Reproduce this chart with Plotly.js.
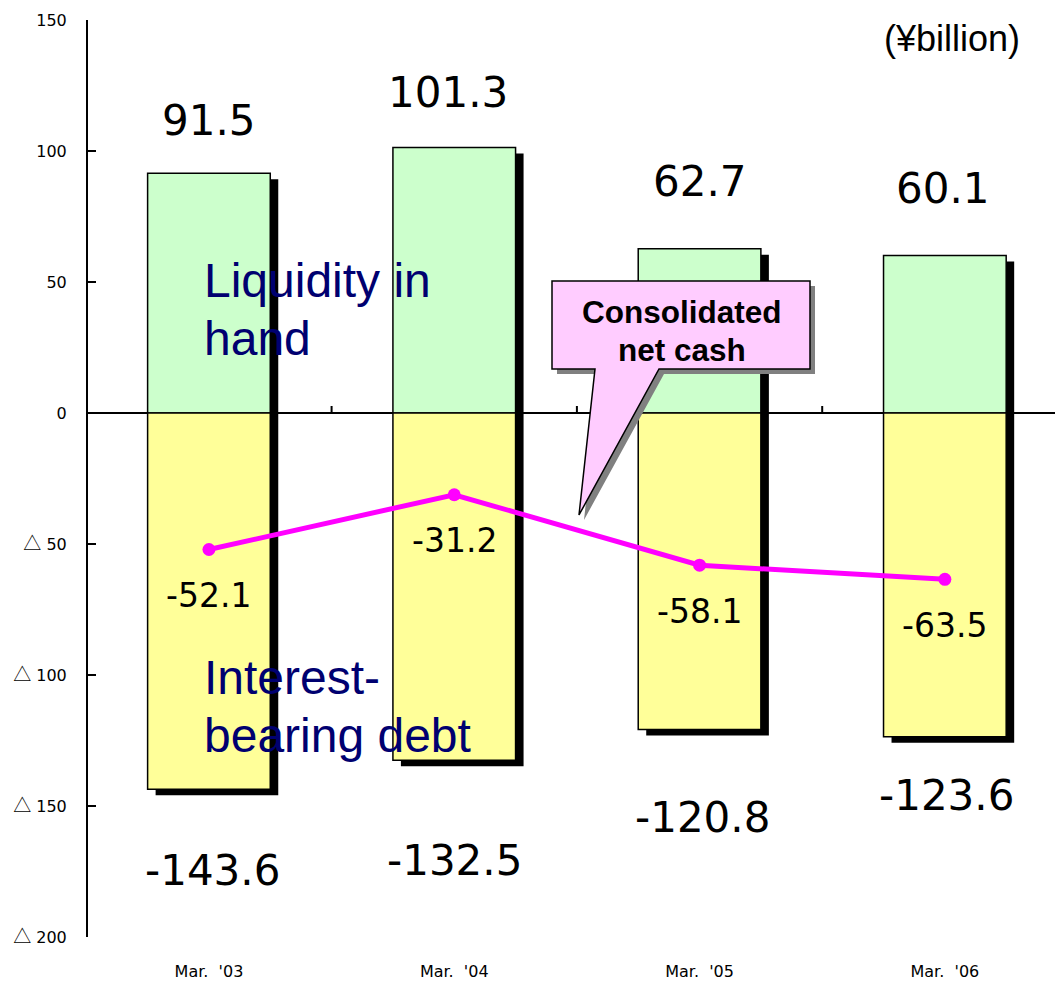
<!DOCTYPE html>
<html>
<head>
<meta charset="utf-8">
<script src="https://cdn.plot.ly/plotly-3.0.1.min.js"></script>
<style>
  html, body { margin: 0; padding: 0; background: #ffffff; }
  #chart { width: 1055px; height: 981px; }
</style>
</head>
<body>
<div id="chart"></div>
<script>
// Fiscal year-ends (¥ billion)
const categories = ["Mar.\u00a0\u00a0'03", "Mar.\u00a0\u00a0'04", "Mar.\u00a0\u00a0'05", "Mar.\u00a0\u00a0'06"];
const liquidity = [91.5, 101.3, 62.7, 60.1];
const debt = [-143.6, -132.5, -120.8, -123.6];
const netCash = [-52.1, -31.2, -58.1, -63.5];

const tri = "<span style='font-family:\"Noto Sans CJK JP\";font-size:18px'>△</span>";
const yTickVals = [150, 100, 50, 0, -50, -100, -150, -200];
const yTickText = ["150", "100", "50", "0", tri + " 50", tri + " 100", tri + " 150", tri + " 200"];

// Label offsets from the value they state (pixels; up / right positive)
const liquidityLabelShift = [53, 55, 67, 67];
const liquidityLabelNudge = [0, -6, 0, -2];
const debtLabelShift = [-81, -100, -88, -59];
const debtLabelNudge = [4, 0, 3, 2];
const netLabelShift = -46;

// Geometry of the plotting area
const W = 1055, H = 981;
const M = { l: 88, r: 0, t: 20, b: 44 };
const plotW = W - M.l - M.r, plotH = H - M.t - M.b;
const xRange = [-0.493, 3.449];
const yRange = [-200, 150];
const pxPerX = plotW / (xRange[1] - xRange[0]);
const pxPerY = plotH / (yRange[1] - yRange[0]);

// Drop shadow: same bars on a copy of the axes nudged right and down
const shadowDx = 8, shadowDy = 6;
const shadowXRange = [xRange[0] - shadowDx / pxPerX, xRange[1] - shadowDx / pxPerX];
const shadowYRange = [yRange[0] + shadowDy / pxPerY, yRange[1] + shadowDy / pxPerY];

// pixel -> paper helpers for decorations
const px = v => (v - M.l) / plotW;
const py = v => (H - M.b - v) / plotH;

const barWidth = 0.5;
const numFont = { family: "DejaVu Sans", size: 42, color: "#000000" };
const sans = "Liberation Sans, Arial, sans-serif";

const traces = [
  { type: "bar", x: categories, y: liquidity, xaxis: "x", yaxis: "y", width: barWidth,
    marker: { color: "#000000", line: { width: 0 } }, hoverinfo: "skip", showlegend: false },
  { type: "bar", x: categories, y: debt, xaxis: "x", yaxis: "y", width: barWidth,
    marker: { color: "#000000", line: { width: 0 } }, hoverinfo: "skip", showlegend: false },
  { type: "bar", x: categories, y: liquidity, xaxis: "x2", yaxis: "y2", width: barWidth,
    marker: { color: "#ccffcc", line: { color: "#000000", width: 1.5 } }, hoverinfo: "skip", showlegend: false },
  { type: "bar", x: categories, y: debt, xaxis: "x2", yaxis: "y2", width: barWidth,
    marker: { color: "#ffff99", line: { color: "#000000", width: 1.5 } }, hoverinfo: "skip", showlegend: false },
  { type: "scatter", mode: "lines+markers", x: categories, y: netCash, xaxis: "x2", yaxis: "y2",
    line: { color: "#ff00ff", width: 5 }, marker: { color: "#ff00ff", size: 13 },
    hoverinfo: "skip", showlegend: false }
];

const annotations = [];
categories.forEach((c, i) => {
  annotations.push({ xref: "x2", yref: "y2", x: c, y: liquidity[i],
    yshift: liquidityLabelShift[i], xshift: liquidityLabelNudge[i],
    text: liquidity[i].toFixed(1), showarrow: false, font: numFont });
  annotations.push({ xref: "x2", yref: "y2", x: c, y: debt[i],
    yshift: debtLabelShift[i], xshift: debtLabelNudge[i],
    text: debt[i].toFixed(1), showarrow: false, font: numFont });
  annotations.push({ xref: "x2", yref: "y2", x: c, y: netCash[i], yshift: netLabelShift,
    text: netCash[i].toFixed(1), showarrow: false,
    font: { family: "DejaVu Sans", size: 33, color: "#000000" } });
});

const seriesFont = { family: sans, size: 48, color: "#000070" };
const textLines = [
  ["Liquidity in", 280], ["hand", 338], ["Interest-", 677], ["bearing debt", 735]
];
textLines.forEach(([t, y]) => {
  annotations.push({ xref: "paper", yref: "paper", x: px(202), y: py(y), xanchor: "left", yanchor: "middle",
    text: t, showarrow: false, font: seriesFont });
});

annotations.push({ xref: "paper", yref: "paper", x: px(952), y: py(39), xanchor: "center", yanchor: "middle",
  text: "(¥billion)", showarrow: false, font: { family: sans, size: 36, color: "#000000" } });

annotations.push({ xref: "paper", yref: "paper", x: px(682), y: py(312), xanchor: "center", yanchor: "middle",
  text: "<b>Consolidated</b>", showarrow: false, font: { family: sans, size: 31.5, color: "#000000" } });
annotations.push({ xref: "paper", yref: "paper", x: px(682), y: py(350), xanchor: "center", yanchor: "middle",
  text: "<b>net cash</b>", showarrow: false, font: { family: sans, size: 31.5, color: "#000000" } });

// Callout bubble outline (pixel points)
const bubble = [[552, 281], [810, 281], [810, 369], [659, 369], [579, 515], [595, 369], [552, 369]];
const pathOf = (pts, dx, dy) => "M " + pts.map(([x, y]) => px(x + dx) + "," + py(y + dy)).join(" L ") + " Z";

const shapes = [
  { type: "path", xref: "paper", yref: "paper", path: pathOf(bubble, 5, 5),
    fillcolor: "#808080", line: { width: 0 }, layer: "above" },
  { type: "path", xref: "paper", yref: "paper", path: pathOf(bubble, 0, 0),
    fillcolor: "#ffccff", line: { color: "#000000", width: 1.5 }, layer: "above" }
];
// small ticks on the zero line between categories
[0.5, 1.5, 2.5].forEach(b => {
  shapes.push({ type: "line", xref: "x2", yref: "y2", ysizemode: "pixel", yanchor: 0,
    x0: b, x1: b, y0: 0, y1: 7, line: { color: "#000000", width: 2 }, layer: "below" });
});

const tickFont = { family: "DejaVu Sans", size: 16, color: "#000000" };

const layout = {
  width: W, height: H,
  margin: M,
  paper_bgcolor: "#ffffff", plot_bgcolor: "rgba(0,0,0,0)",
  barmode: "overlay",
  showlegend: false,
  font: { family: sans, color: "#000000" },
  xaxis: { visible: false, range: shadowXRange, fixedrange: true },
  yaxis: { visible: false, range: shadowYRange, fixedrange: true },
  xaxis2: {
    overlaying: "x", anchor: "y2", side: "bottom", range: xRange, type: "category",
    showgrid: false, zeroline: false, showline: false, ticks: "",
    tickfont: { family: "DejaVu Sans", size: 16, color: "#000000" },
    ticklabelstandoff: 23, fixedrange: true
  },
  yaxis2: {
    overlaying: "y", anchor: "x2", side: "left", range: yRange,
    tickvals: yTickVals, ticktext: yTickText,
    showgrid: false, showline: true, linecolor: "#000000", linewidth: 2,
    ticks: "inside", ticklen: 8, tickwidth: 2, tickcolor: "#000000",
    zeroline: true, zerolinecolor: "#000000", zerolinewidth: 2,
    tickfont: tickFont,
    ticklabelstandoff: 16, fixedrange: true
  },
  annotations: annotations,
  shapes: shapes
};

Plotly.newPlot("chart", traces, layout, { staticPlot: true, displayModeBar: false });
</script>
</body>
</html>
